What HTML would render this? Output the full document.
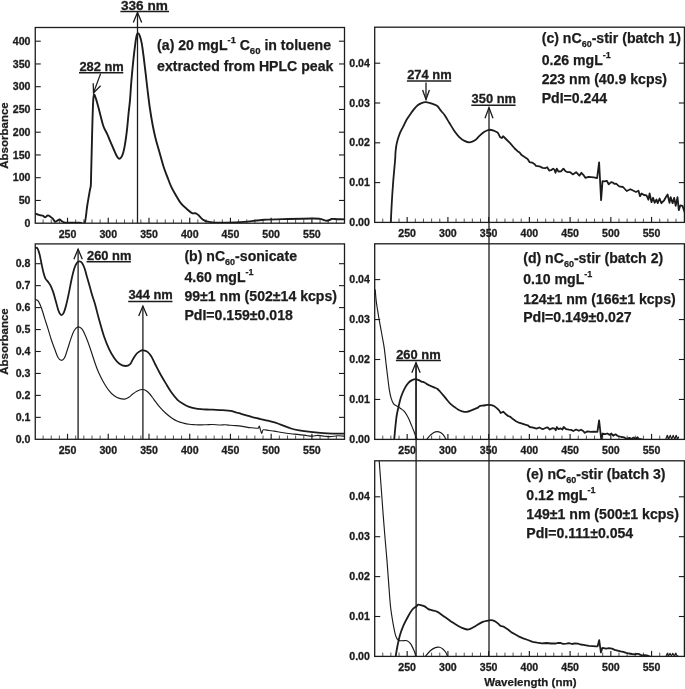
<!DOCTYPE html>
<html><head><meta charset="utf-8"><title>UV-vis spectra</title>
<style>html,body{margin:0;padding:0;background:#fff;width:685px;height:689px;overflow:hidden}svg{display:block;will-change:transform}</style>
</head><body>
<svg width="685" height="689" viewBox="0 0 685 689" font-family='"Liberation Sans", sans-serif' fill="#1c1c1c">
<rect width="685" height="689" fill="#ffffff"/>
<defs>
<clipPath id="ca"><rect x="35.25" y="27.5" width="309.25" height="195.7"/></clipPath>
<clipPath id="cb"><rect x="35.25" y="243.9" width="309.25" height="195.4"/></clipPath>
<clipPath id="cc"><rect x="374.7" y="27.2" width="309.7" height="195.2"/></clipPath>
<clipPath id="cd"><rect x="374.7" y="243.8" width="309.7" height="195.6"/></clipPath>
<clipPath id="ce"><rect x="374.7" y="460.8" width="309.7" height="195.6"/></clipPath>
</defs>
<text x="30.45" y="226.8" font-size="10.6" text-anchor="end" font-weight="bold" stroke="#1c1c1c" stroke-width="0.3">0</text>
<line x1="35.25" y1="200.45" x2="40.75" y2="200.45" stroke="#1c1c1c" stroke-width="1.1"/>
<line x1="344.5" y1="200.45" x2="339" y2="200.45" stroke="#1c1c1c" stroke-width="1.1"/>
<text x="30.45" y="204.05" font-size="10.6" text-anchor="end" font-weight="bold" stroke="#1c1c1c" stroke-width="0.3">50</text>
<line x1="35.25" y1="177.7" x2="40.75" y2="177.7" stroke="#1c1c1c" stroke-width="1.1"/>
<line x1="344.5" y1="177.7" x2="339" y2="177.7" stroke="#1c1c1c" stroke-width="1.1"/>
<text x="30.45" y="181.3" font-size="10.6" text-anchor="end" font-weight="bold" stroke="#1c1c1c" stroke-width="0.3">100</text>
<line x1="35.25" y1="154.95" x2="40.75" y2="154.95" stroke="#1c1c1c" stroke-width="1.1"/>
<line x1="344.5" y1="154.95" x2="339" y2="154.95" stroke="#1c1c1c" stroke-width="1.1"/>
<text x="30.45" y="158.55" font-size="10.6" text-anchor="end" font-weight="bold" stroke="#1c1c1c" stroke-width="0.3">150</text>
<line x1="35.25" y1="132.2" x2="40.75" y2="132.2" stroke="#1c1c1c" stroke-width="1.1"/>
<line x1="344.5" y1="132.2" x2="339" y2="132.2" stroke="#1c1c1c" stroke-width="1.1"/>
<text x="30.45" y="135.8" font-size="10.6" text-anchor="end" font-weight="bold" stroke="#1c1c1c" stroke-width="0.3">200</text>
<line x1="35.25" y1="109.45" x2="40.75" y2="109.45" stroke="#1c1c1c" stroke-width="1.1"/>
<line x1="344.5" y1="109.45" x2="339" y2="109.45" stroke="#1c1c1c" stroke-width="1.1"/>
<text x="30.45" y="113.05" font-size="10.6" text-anchor="end" font-weight="bold" stroke="#1c1c1c" stroke-width="0.3">250</text>
<line x1="35.25" y1="86.7" x2="40.75" y2="86.7" stroke="#1c1c1c" stroke-width="1.1"/>
<line x1="344.5" y1="86.7" x2="339" y2="86.7" stroke="#1c1c1c" stroke-width="1.1"/>
<text x="30.45" y="90.3" font-size="10.6" text-anchor="end" font-weight="bold" stroke="#1c1c1c" stroke-width="0.3">300</text>
<line x1="35.25" y1="63.95" x2="40.75" y2="63.95" stroke="#1c1c1c" stroke-width="1.1"/>
<line x1="344.5" y1="63.95" x2="339" y2="63.95" stroke="#1c1c1c" stroke-width="1.1"/>
<text x="30.45" y="67.55" font-size="10.6" text-anchor="end" font-weight="bold" stroke="#1c1c1c" stroke-width="0.3">350</text>
<line x1="35.25" y1="41.2" x2="40.75" y2="41.2" stroke="#1c1c1c" stroke-width="1.1"/>
<line x1="344.5" y1="41.2" x2="339" y2="41.2" stroke="#1c1c1c" stroke-width="1.1"/>
<text x="30.45" y="44.8" font-size="10.6" text-anchor="end" font-weight="bold" stroke="#1c1c1c" stroke-width="0.3">400</text>
<line x1="43.1" y1="223.2" x2="43.1" y2="219.4" stroke="#444" stroke-width="0.9"/>
<line x1="51.24" y1="223.2" x2="51.24" y2="219.4" stroke="#444" stroke-width="0.9"/>
<line x1="59.39" y1="223.2" x2="59.39" y2="219.4" stroke="#444" stroke-width="0.9"/>
<line x1="67.53" y1="223.2" x2="67.53" y2="217.7" stroke="#1c1c1c" stroke-width="1.15"/>
<text x="67.53" y="237.9" font-size="10.6" text-anchor="middle" font-weight="bold" stroke="#1c1c1c" stroke-width="0.3">250</text>
<line x1="75.68" y1="223.2" x2="75.68" y2="219.4" stroke="#444" stroke-width="0.9"/>
<line x1="83.83" y1="223.2" x2="83.83" y2="219.4" stroke="#444" stroke-width="0.9"/>
<line x1="91.97" y1="223.2" x2="91.97" y2="219.4" stroke="#444" stroke-width="0.9"/>
<line x1="100.12" y1="223.2" x2="100.12" y2="219.4" stroke="#444" stroke-width="0.9"/>
<line x1="108.26" y1="223.2" x2="108.26" y2="217.7" stroke="#1c1c1c" stroke-width="1.15"/>
<text x="108.26" y="237.9" font-size="10.6" text-anchor="middle" font-weight="bold" stroke="#1c1c1c" stroke-width="0.3">300</text>
<line x1="116.41" y1="223.2" x2="116.41" y2="219.4" stroke="#444" stroke-width="0.9"/>
<line x1="124.56" y1="223.2" x2="124.56" y2="219.4" stroke="#444" stroke-width="0.9"/>
<line x1="132.7" y1="223.2" x2="132.7" y2="219.4" stroke="#444" stroke-width="0.9"/>
<line x1="140.85" y1="223.2" x2="140.85" y2="219.4" stroke="#444" stroke-width="0.9"/>
<line x1="148.99" y1="223.2" x2="148.99" y2="217.7" stroke="#1c1c1c" stroke-width="1.15"/>
<text x="148.99" y="237.9" font-size="10.6" text-anchor="middle" font-weight="bold" stroke="#1c1c1c" stroke-width="0.3">350</text>
<line x1="157.14" y1="223.2" x2="157.14" y2="219.4" stroke="#444" stroke-width="0.9"/>
<line x1="165.29" y1="223.2" x2="165.29" y2="219.4" stroke="#444" stroke-width="0.9"/>
<line x1="173.43" y1="223.2" x2="173.43" y2="219.4" stroke="#444" stroke-width="0.9"/>
<line x1="181.58" y1="223.2" x2="181.58" y2="219.4" stroke="#444" stroke-width="0.9"/>
<line x1="189.72" y1="223.2" x2="189.72" y2="217.7" stroke="#1c1c1c" stroke-width="1.15"/>
<text x="189.72" y="237.9" font-size="10.6" text-anchor="middle" font-weight="bold" stroke="#1c1c1c" stroke-width="0.3">400</text>
<line x1="197.87" y1="223.2" x2="197.87" y2="219.4" stroke="#444" stroke-width="0.9"/>
<line x1="206.02" y1="223.2" x2="206.02" y2="219.4" stroke="#444" stroke-width="0.9"/>
<line x1="214.16" y1="223.2" x2="214.16" y2="219.4" stroke="#444" stroke-width="0.9"/>
<line x1="222.31" y1="223.2" x2="222.31" y2="219.4" stroke="#444" stroke-width="0.9"/>
<line x1="230.45" y1="223.2" x2="230.45" y2="217.7" stroke="#1c1c1c" stroke-width="1.15"/>
<text x="230.45" y="237.9" font-size="10.6" text-anchor="middle" font-weight="bold" stroke="#1c1c1c" stroke-width="0.3">450</text>
<line x1="238.6" y1="223.2" x2="238.6" y2="219.4" stroke="#444" stroke-width="0.9"/>
<line x1="246.75" y1="223.2" x2="246.75" y2="219.4" stroke="#444" stroke-width="0.9"/>
<line x1="254.89" y1="223.2" x2="254.89" y2="219.4" stroke="#444" stroke-width="0.9"/>
<line x1="263.04" y1="223.2" x2="263.04" y2="219.4" stroke="#444" stroke-width="0.9"/>
<line x1="271.18" y1="223.2" x2="271.18" y2="217.7" stroke="#1c1c1c" stroke-width="1.15"/>
<text x="271.18" y="237.9" font-size="10.6" text-anchor="middle" font-weight="bold" stroke="#1c1c1c" stroke-width="0.3">500</text>
<line x1="279.33" y1="223.2" x2="279.33" y2="219.4" stroke="#444" stroke-width="0.9"/>
<line x1="287.48" y1="223.2" x2="287.48" y2="219.4" stroke="#444" stroke-width="0.9"/>
<line x1="295.62" y1="223.2" x2="295.62" y2="219.4" stroke="#444" stroke-width="0.9"/>
<line x1="303.77" y1="223.2" x2="303.77" y2="219.4" stroke="#444" stroke-width="0.9"/>
<line x1="311.91" y1="223.2" x2="311.91" y2="217.7" stroke="#1c1c1c" stroke-width="1.15"/>
<text x="311.91" y="237.9" font-size="10.6" text-anchor="middle" font-weight="bold" stroke="#1c1c1c" stroke-width="0.3">550</text>
<line x1="320.06" y1="223.2" x2="320.06" y2="219.4" stroke="#444" stroke-width="0.9"/>
<line x1="328.21" y1="223.2" x2="328.21" y2="219.4" stroke="#444" stroke-width="0.9"/>
<line x1="336.35" y1="223.2" x2="336.35" y2="219.4" stroke="#444" stroke-width="0.9"/>
<g clip-path="url(#ca)">
<path d="M34.5,213.5 C34.68,213.52 34.98,213.4 35.6,213.6 C36.22,213.8 37.43,214.43 38.2,214.7 C38.97,214.97 39.43,215.03 40.2,215.2 C40.97,215.37 41.95,215.37 42.8,215.7 C43.65,216.03 44.45,217.25 45.3,217.2 C46.15,217.15 47.05,215.48 47.9,215.4 C48.75,215.32 49.55,216.13 50.4,216.7 C51.25,217.27 52.23,217.95 53,218.8 C53.77,219.65 54.32,221.47 55,221.8 C55.68,222.13 56.33,221.18 57.1,220.8 C57.87,220.42 58.83,219.45 59.6,219.5 C60.37,219.55 60.93,220.6 61.7,221.1 C62.47,221.6 63.35,222.22 64.2,222.5 C65.05,222.78 65.68,222.75 66.8,222.8 C67.92,222.85 68.7,222.8 70.9,222.8 C73.1,222.8 77.7,222.8 80,222.8 C82.3,222.8 83.5,225.6 84.7,222.8 C85.9,220 86.35,211.35 87.2,206 C88.05,200.65 89.2,194.12 89.8,190.7 C90.4,187.28 90.58,188.07 90.8,185.5 C91.02,182.93 91,179.05 91.1,175.3 C91.2,171.55 91.27,168.38 91.4,163 C91.53,157.62 91.72,150.2 91.9,143 C92.08,135.8 92.28,126.8 92.5,119.8 C92.72,112.8 92.95,105.22 93.2,101 C93.45,96.78 93.53,94.85 94,94.5 C94.47,94.15 95.28,96.82 96,98.9 C96.72,100.98 97.52,104.1 98.3,107 C99.08,109.9 99.82,113 100.7,116.3 C101.58,119.6 102.55,123.9 103.6,126.8 C104.65,129.7 105.85,131.2 107,133.7 C108.15,136.2 109.33,139.08 110.5,141.8 C111.67,144.52 112.93,147.58 114,150 C115.07,152.42 116.03,154.85 116.9,156.3 C117.77,157.75 118.33,158.78 119.2,158.7 C120.07,158.62 121.23,157.65 122.1,155.8 C122.97,153.95 123.62,151.67 124.4,147.6 C125.18,143.53 126.12,137 126.8,131.4 C127.48,125.8 127.97,119.22 128.5,114 C129.03,108.78 129.53,105.43 130,100.1 C130.47,94.77 130.75,88.57 131.3,82 C131.85,75.43 132.63,67.08 133.3,60.7 C133.97,54.32 134.75,47.85 135.3,43.7 C135.85,39.55 136.17,37.53 136.6,35.8 C137.03,34.07 137.37,33.3 137.9,33.3 C138.43,33.3 139.15,34.07 139.8,35.8 C140.45,37.53 141.13,39.98 141.8,43.7 C142.47,47.42 143.15,53.08 143.8,58.1 C144.45,63.12 145.07,68.4 145.7,73.8 C146.33,79.2 146.93,84.97 147.6,90.5 C148.27,96.03 148.85,101.2 149.7,107 C150.55,112.8 151.7,119.97 152.7,125.3 C153.7,130.63 154.55,134.43 155.7,139 C156.85,143.57 158.3,148.12 159.6,152.7 C160.9,157.28 162.18,162.4 163.5,166.5 C164.82,170.6 166.18,173.87 167.5,177.3 C168.82,180.73 169.93,184 171.4,187.1 C172.87,190.2 174.67,193.13 176.3,195.9 C177.93,198.67 179.4,201.48 181.2,203.7 C183,205.92 185.3,207.63 187.1,209.2 C188.9,210.77 190.53,212.42 192,213.1 C193.47,213.78 194.77,212.9 195.9,213.3 C197.03,213.7 197.67,214.48 198.8,215.5 C199.93,216.52 201.38,218.42 202.7,219.4 C204.02,220.38 205.07,220.9 206.7,221.4 C208.33,221.9 210.28,222.2 212.5,222.4 C214.72,222.6 216.25,222.58 220,222.6 C223.75,222.62 230.42,222.67 235,222.5 C239.58,222.33 242.67,222.05 247.5,221.6 C252.33,221.15 257.25,220.23 264,219.8 C270.75,219.37 279.92,219.22 288,219 C296.08,218.78 307.17,218.52 312.5,218.5 C317.83,218.48 317.58,218.52 320,218.9 C322.42,219.28 325.03,220.78 327,220.8 C328.97,220.82 330.13,219.27 331.8,219 C333.47,218.73 334.8,219.13 337,219.2 C339.2,219.27 343.67,219.37 345,219.4" fill="none" stroke="#1c1c1c" stroke-width="1.9" stroke-linejoin="round" stroke-linecap="round"/>
</g>
<rect x="35.25" y="27.5" width="309.25" height="195.7" fill="none" stroke="#1c1c1c" stroke-width="1.3"/>
<line x1="137.5" y1="12.5" x2="137.5" y2="223.2" stroke="#1c1c1c" stroke-width="1.3"/>
<polyline points="133.3,22.5 137.5,12.5 141.7,22.5" fill="none" stroke="#1c1c1c" stroke-width="1.3" stroke-linejoin="miter"/>
<text x="121" y="9.6" font-size="13.6" text-anchor="start" font-weight="bold" stroke="#1c1c1c" stroke-width="0.3">336 nm</text>
<line x1="120.4" y1="11.6" x2="169" y2="11.6" stroke="#1c1c1c" stroke-width="1.5"/>
<text x="79.4" y="70.8" font-size="12.9" text-anchor="start" font-weight="bold" stroke="#1c1c1c" stroke-width="0.3">282 nm</text>
<line x1="79" y1="72.8" x2="123.3" y2="72.8" stroke="#1c1c1c" stroke-width="1.5"/>
<line x1="100.6" y1="73.6" x2="93.5" y2="92.9" stroke="#1c1c1c" stroke-width="1.3"/>
<polyline points="93.2,83.3 93.5,92.9 100.6,85.7" fill="none" stroke="#1c1c1c" stroke-width="1.3"/>
<text x="157.1" y="50.0" font-size="14.1" font-weight="bold" stroke="#1c1c1c" stroke-width="0.25">(a) 20 mgL<tspan font-size="9.2" baseline-shift="6.8">-1</tspan> C<tspan font-size="9.6" baseline-shift="-4.3">60</tspan> in toluene</text>
<text x="157.1" y="71.1" font-size="14.1" font-weight="bold" stroke="#1c1c1c" stroke-width="0.25">extracted from HPLC peak</text>
<text x="30.45" y="442.9" font-size="10.6" text-anchor="end" font-weight="bold" stroke="#1c1c1c" stroke-width="0.3">0.0</text>
<line x1="35.25" y1="417.35" x2="40.75" y2="417.35" stroke="#1c1c1c" stroke-width="1.1"/>
<line x1="344.5" y1="417.35" x2="339" y2="417.35" stroke="#1c1c1c" stroke-width="1.1"/>
<text x="30.45" y="420.95" font-size="10.6" text-anchor="end" font-weight="bold" stroke="#1c1c1c" stroke-width="0.3">0.1</text>
<line x1="35.25" y1="395.4" x2="40.75" y2="395.4" stroke="#1c1c1c" stroke-width="1.1"/>
<line x1="344.5" y1="395.4" x2="339" y2="395.4" stroke="#1c1c1c" stroke-width="1.1"/>
<text x="30.45" y="399" font-size="10.6" text-anchor="end" font-weight="bold" stroke="#1c1c1c" stroke-width="0.3">0.2</text>
<line x1="35.25" y1="373.45" x2="40.75" y2="373.45" stroke="#1c1c1c" stroke-width="1.1"/>
<line x1="344.5" y1="373.45" x2="339" y2="373.45" stroke="#1c1c1c" stroke-width="1.1"/>
<text x="30.45" y="377.05" font-size="10.6" text-anchor="end" font-weight="bold" stroke="#1c1c1c" stroke-width="0.3">0.3</text>
<line x1="35.25" y1="351.5" x2="40.75" y2="351.5" stroke="#1c1c1c" stroke-width="1.1"/>
<line x1="344.5" y1="351.5" x2="339" y2="351.5" stroke="#1c1c1c" stroke-width="1.1"/>
<text x="30.45" y="355.1" font-size="10.6" text-anchor="end" font-weight="bold" stroke="#1c1c1c" stroke-width="0.3">0.4</text>
<line x1="35.25" y1="329.55" x2="40.75" y2="329.55" stroke="#1c1c1c" stroke-width="1.1"/>
<line x1="344.5" y1="329.55" x2="339" y2="329.55" stroke="#1c1c1c" stroke-width="1.1"/>
<text x="30.45" y="333.15" font-size="10.6" text-anchor="end" font-weight="bold" stroke="#1c1c1c" stroke-width="0.3">0.5</text>
<line x1="35.25" y1="307.6" x2="40.75" y2="307.6" stroke="#1c1c1c" stroke-width="1.1"/>
<line x1="344.5" y1="307.6" x2="339" y2="307.6" stroke="#1c1c1c" stroke-width="1.1"/>
<text x="30.45" y="311.2" font-size="10.6" text-anchor="end" font-weight="bold" stroke="#1c1c1c" stroke-width="0.3">0.6</text>
<line x1="35.25" y1="285.65" x2="40.75" y2="285.65" stroke="#1c1c1c" stroke-width="1.1"/>
<line x1="344.5" y1="285.65" x2="339" y2="285.65" stroke="#1c1c1c" stroke-width="1.1"/>
<text x="30.45" y="289.25" font-size="10.6" text-anchor="end" font-weight="bold" stroke="#1c1c1c" stroke-width="0.3">0.7</text>
<line x1="35.25" y1="263.7" x2="40.75" y2="263.7" stroke="#1c1c1c" stroke-width="1.1"/>
<line x1="344.5" y1="263.7" x2="339" y2="263.7" stroke="#1c1c1c" stroke-width="1.1"/>
<text x="30.45" y="267.3" font-size="10.6" text-anchor="end" font-weight="bold" stroke="#1c1c1c" stroke-width="0.3">0.8</text>
<line x1="43.1" y1="439.3" x2="43.1" y2="435.5" stroke="#444" stroke-width="0.9"/>
<line x1="51.24" y1="439.3" x2="51.24" y2="435.5" stroke="#444" stroke-width="0.9"/>
<line x1="59.39" y1="439.3" x2="59.39" y2="435.5" stroke="#444" stroke-width="0.9"/>
<line x1="67.53" y1="439.3" x2="67.53" y2="433.8" stroke="#1c1c1c" stroke-width="1.15"/>
<text x="67.53" y="454" font-size="10.6" text-anchor="middle" font-weight="bold" stroke="#1c1c1c" stroke-width="0.3">250</text>
<line x1="75.68" y1="439.3" x2="75.68" y2="435.5" stroke="#444" stroke-width="0.9"/>
<line x1="83.83" y1="439.3" x2="83.83" y2="435.5" stroke="#444" stroke-width="0.9"/>
<line x1="91.97" y1="439.3" x2="91.97" y2="435.5" stroke="#444" stroke-width="0.9"/>
<line x1="100.12" y1="439.3" x2="100.12" y2="435.5" stroke="#444" stroke-width="0.9"/>
<line x1="108.26" y1="439.3" x2="108.26" y2="433.8" stroke="#1c1c1c" stroke-width="1.15"/>
<text x="108.26" y="454" font-size="10.6" text-anchor="middle" font-weight="bold" stroke="#1c1c1c" stroke-width="0.3">300</text>
<line x1="116.41" y1="439.3" x2="116.41" y2="435.5" stroke="#444" stroke-width="0.9"/>
<line x1="124.56" y1="439.3" x2="124.56" y2="435.5" stroke="#444" stroke-width="0.9"/>
<line x1="132.7" y1="439.3" x2="132.7" y2="435.5" stroke="#444" stroke-width="0.9"/>
<line x1="140.85" y1="439.3" x2="140.85" y2="435.5" stroke="#444" stroke-width="0.9"/>
<line x1="148.99" y1="439.3" x2="148.99" y2="433.8" stroke="#1c1c1c" stroke-width="1.15"/>
<text x="148.99" y="454" font-size="10.6" text-anchor="middle" font-weight="bold" stroke="#1c1c1c" stroke-width="0.3">350</text>
<line x1="157.14" y1="439.3" x2="157.14" y2="435.5" stroke="#444" stroke-width="0.9"/>
<line x1="165.29" y1="439.3" x2="165.29" y2="435.5" stroke="#444" stroke-width="0.9"/>
<line x1="173.43" y1="439.3" x2="173.43" y2="435.5" stroke="#444" stroke-width="0.9"/>
<line x1="181.58" y1="439.3" x2="181.58" y2="435.5" stroke="#444" stroke-width="0.9"/>
<line x1="189.72" y1="439.3" x2="189.72" y2="433.8" stroke="#1c1c1c" stroke-width="1.15"/>
<text x="189.72" y="454" font-size="10.6" text-anchor="middle" font-weight="bold" stroke="#1c1c1c" stroke-width="0.3">400</text>
<line x1="197.87" y1="439.3" x2="197.87" y2="435.5" stroke="#444" stroke-width="0.9"/>
<line x1="206.02" y1="439.3" x2="206.02" y2="435.5" stroke="#444" stroke-width="0.9"/>
<line x1="214.16" y1="439.3" x2="214.16" y2="435.5" stroke="#444" stroke-width="0.9"/>
<line x1="222.31" y1="439.3" x2="222.31" y2="435.5" stroke="#444" stroke-width="0.9"/>
<line x1="230.45" y1="439.3" x2="230.45" y2="433.8" stroke="#1c1c1c" stroke-width="1.15"/>
<text x="230.45" y="454" font-size="10.6" text-anchor="middle" font-weight="bold" stroke="#1c1c1c" stroke-width="0.3">450</text>
<line x1="238.6" y1="439.3" x2="238.6" y2="435.5" stroke="#444" stroke-width="0.9"/>
<line x1="246.75" y1="439.3" x2="246.75" y2="435.5" stroke="#444" stroke-width="0.9"/>
<line x1="254.89" y1="439.3" x2="254.89" y2="435.5" stroke="#444" stroke-width="0.9"/>
<line x1="263.04" y1="439.3" x2="263.04" y2="435.5" stroke="#444" stroke-width="0.9"/>
<line x1="271.18" y1="439.3" x2="271.18" y2="433.8" stroke="#1c1c1c" stroke-width="1.15"/>
<text x="271.18" y="454" font-size="10.6" text-anchor="middle" font-weight="bold" stroke="#1c1c1c" stroke-width="0.3">500</text>
<line x1="279.33" y1="439.3" x2="279.33" y2="435.5" stroke="#444" stroke-width="0.9"/>
<line x1="287.48" y1="439.3" x2="287.48" y2="435.5" stroke="#444" stroke-width="0.9"/>
<line x1="295.62" y1="439.3" x2="295.62" y2="435.5" stroke="#444" stroke-width="0.9"/>
<line x1="303.77" y1="439.3" x2="303.77" y2="435.5" stroke="#444" stroke-width="0.9"/>
<line x1="311.91" y1="439.3" x2="311.91" y2="433.8" stroke="#1c1c1c" stroke-width="1.15"/>
<text x="311.91" y="454" font-size="10.6" text-anchor="middle" font-weight="bold" stroke="#1c1c1c" stroke-width="0.3">550</text>
<line x1="320.06" y1="439.3" x2="320.06" y2="435.5" stroke="#444" stroke-width="0.9"/>
<line x1="328.21" y1="439.3" x2="328.21" y2="435.5" stroke="#444" stroke-width="0.9"/>
<line x1="336.35" y1="439.3" x2="336.35" y2="435.5" stroke="#444" stroke-width="0.9"/>
<g clip-path="url(#cb)">
<path d="M35,247.6 C35.12,247.62 35.27,247.53 35.7,247.7 C36.13,247.87 36.95,247.47 37.6,248.6 C38.25,249.73 38.95,252 39.6,254.5 C40.25,257 40.85,260.55 41.5,263.6 C42.15,266.65 42.83,270.3 43.5,272.8 C44.17,275.3 44.73,277.08 45.5,278.6 C46.27,280.12 47.23,280.7 48.1,281.9 C48.97,283.1 49.83,284.05 50.7,285.8 C51.57,287.55 52.43,289.78 53.3,292.4 C54.17,295.02 55.03,298.45 55.9,301.5 C56.77,304.55 57.63,308.45 58.5,310.7 C59.37,312.95 60.22,314.68 61.1,315 C61.98,315.32 62.92,314.42 63.8,312.6 C64.68,310.78 65.53,307.47 66.4,304.1 C67.27,300.73 68.13,296.53 69,292.4 C69.87,288.27 70.73,283.23 71.6,279.3 C72.47,275.37 73.33,271.52 74.2,268.8 C75.07,266.08 75.93,264.25 76.8,263 C77.67,261.75 78.52,261.3 79.4,261.3 C80.28,261.3 81.22,261.75 82.1,263 C82.98,264.25 83.83,266.3 84.7,268.8 C85.57,271.3 86.43,274.95 87.3,278 C88.17,281.05 89.03,284.05 89.9,287.1 C90.77,290.15 91.65,293.47 92.5,296.3 C93.35,299.13 93.88,300.15 95,304.1 C96.12,308.05 97.73,314.73 99.2,320 C100.67,325.27 102.17,330.9 103.8,335.7 C105.43,340.5 107.27,345.1 109,348.8 C110.73,352.5 112.47,355.4 114.2,357.9 C115.93,360.4 117.55,362.45 119.4,363.8 C121.25,365.15 123.55,365.9 125.3,366 C127.05,366.1 128.65,365.5 129.9,364.4 C131.15,363.3 131.65,361.22 132.8,359.4 C133.95,357.58 135.48,354.95 136.8,353.5 C138.12,352.05 139.62,351.23 140.7,350.7 C141.78,350.17 142.22,350.15 143.3,350.3 C144.38,350.45 145.9,350.63 147.2,351.6 C148.5,352.57 149.78,354.03 151.1,356.1 C152.42,358.17 153.62,361.1 155.1,364 C156.58,366.9 158.22,370.27 160,373.5 C161.78,376.73 163.85,380.18 165.8,383.4 C167.75,386.62 169.75,390.07 171.7,392.8 C173.65,395.53 175.55,397.95 177.5,399.8 C179.45,401.65 181.45,402.73 183.4,403.9 C185.35,405.07 187.27,406.07 189.2,406.8 C191.13,407.53 193.05,407.92 195,408.3 C196.95,408.68 198.95,408.9 200.9,409.1 C202.85,409.3 204.75,409.4 206.7,409.5 C208.65,409.6 210.38,409.6 212.6,409.7 C214.82,409.8 217.88,410 220,410.1 C222.12,410.2 223.55,410.17 225.3,410.3 C227.05,410.43 228.75,410.57 230.5,410.9 C232.25,411.23 234.05,411.82 235.8,412.3 C237.55,412.78 239.25,413.3 241,413.8 C242.75,414.3 244.55,414.8 246.3,415.3 C248.05,415.8 249.75,416.32 251.5,416.8 C253.25,417.28 255.05,417.77 256.8,418.2 C258.55,418.63 260.25,419 262,419.4 C263.75,419.8 265.55,420.18 267.3,420.6 C269.05,421.02 270.75,421.42 272.5,421.9 C274.25,422.38 276.02,422.88 277.8,423.5 C279.58,424.12 281,424.77 283.2,425.6 C285.4,426.43 288.33,427.72 291,428.5 C293.67,429.28 295.95,429.73 299.2,430.3 C302.45,430.87 306.48,431.42 310.5,431.9 C314.52,432.38 319.38,432.92 323.3,433.2 C327.22,433.48 330.38,433.52 334,433.6 C337.62,433.68 343.17,433.68 345,433.7" fill="none" stroke="#1c1c1c" stroke-width="1.8" stroke-linejoin="round" stroke-linecap="round"/>
<path d="M35,299.6 C35.12,299.63 35.15,299.55 35.7,299.8 C36.25,300.05 37.33,299.68 38.3,301.1 C39.27,302.52 40.42,305.35 41.5,308.3 C42.58,311.25 43.7,315.32 44.8,318.8 C45.9,322.28 47.02,325.72 48.1,329.2 C49.18,332.68 50.22,336.43 51.3,339.7 C52.38,342.97 53.5,345.87 54.6,348.8 C55.7,351.73 56.82,355.38 57.9,357.3 C58.98,359.22 60.02,360.18 61.1,360.3 C62.18,360.42 63.3,359.92 64.4,358 C65.5,356.08 66.6,352.07 67.7,348.8 C68.8,345.53 69.92,341.45 71,338.4 C72.08,335.35 73.02,332.42 74.2,330.5 C75.38,328.58 76.78,327.12 78.1,326.9 C79.42,326.68 80.78,327.5 82.1,329.2 C83.42,330.9 84.7,334.05 86,337.1 C87.3,340.15 88.47,343.38 89.9,347.5 C91.33,351.62 93.17,357.67 94.6,361.8 C96.03,365.93 96.97,368.82 98.5,372.3 C100.03,375.78 102.05,379.65 103.8,382.7 C105.55,385.75 107.27,388.42 109,390.6 C110.73,392.78 112.47,394.5 114.2,395.8 C115.93,397.1 117.65,397.85 119.4,398.4 C121.15,398.95 123.12,399.28 124.7,399.1 C126.28,398.92 127.55,398.15 128.9,397.3 C130.25,396.45 131.48,395.02 132.8,394 C134.12,392.98 135.27,391.95 136.8,391.2 C138.33,390.45 140.48,389.63 142,389.5 C143.52,389.37 144.6,389.65 145.9,390.4 C147.2,391.15 148.48,392.52 149.8,394 C151.12,395.48 152.1,397.07 153.8,399.3 C155.5,401.53 158,405.08 160,407.4 C162,409.72 163.85,411.45 165.8,413.2 C167.75,414.95 169.75,416.57 171.7,417.9 C173.65,419.23 175.55,420.33 177.5,421.2 C179.45,422.07 181.45,422.58 183.4,423.1 C185.35,423.62 187.27,424.03 189.2,424.3 C191.13,424.57 193.05,424.6 195,424.7 C196.95,424.8 198.95,424.9 200.9,424.9 C202.85,424.9 204.75,424.77 206.7,424.7 C208.65,424.63 210.38,424.45 212.6,424.5 C214.82,424.55 217.88,424.95 220,425 C222.12,425.05 223.55,424.75 225.3,424.8 C227.05,424.85 228.75,425.17 230.5,425.3 C232.25,425.43 234.05,425.47 235.8,425.6 C237.55,425.73 239.25,425.85 241,426.1 C242.75,426.35 244.55,426.82 246.3,427.1 C248.05,427.38 249.75,427.62 251.5,427.8 C253.25,427.98 255.62,428.17 256.8,428.2 C257.98,428.23 258.17,428.32 258.6,428 C259.03,427.68 258.9,425.42 259.4,426.3 C259.9,427.18 260.95,432.72 261.6,433.3 C262.25,433.88 262.07,430.27 263.3,429.8 C264.53,429.33 267.17,430.28 269,430.5 C270.83,430.72 272.47,430.82 274.3,431.1 C276.13,431.38 278.22,431.88 280,432.2 C281.78,432.52 283.17,432.73 285,433 C286.83,433.27 288.63,433.53 291,433.8 C293.37,434.07 296.48,434.28 299.2,434.6 C301.92,434.92 305.08,435.45 307.3,435.7 C309.52,435.95 310.72,436.15 312.5,436.1 C314.28,436.05 315.98,435.38 318,435.4 C320.02,435.42 322.6,436 324.6,436.2 C326.6,436.4 327.77,436.67 330,436.6 C332.23,436.53 335.5,435.87 338,435.8 C340.5,435.73 343.83,436.13 345,436.2" fill="none" stroke="#1c1c1c" stroke-width="1.15" stroke-linejoin="round" stroke-linecap="round"/>
</g>
<rect x="35.25" y="243.9" width="309.25" height="195.4" fill="none" stroke="#1c1c1c" stroke-width="1.3"/>
<line x1="78.1" y1="249.2" x2="78.1" y2="439.3" stroke="#1c1c1c" stroke-width="1.3"/>
<polyline points="73.9,259.2 78.1,249.2 82.3,259.2" fill="none" stroke="#1c1c1c" stroke-width="1.3" stroke-linejoin="miter"/>
<line x1="142.9" y1="306.1" x2="142.9" y2="439.3" stroke="#1c1c1c" stroke-width="1.3"/>
<polyline points="138.7,316.1 142.9,306.1 147.1,316.1" fill="none" stroke="#1c1c1c" stroke-width="1.3" stroke-linejoin="miter"/>
<text x="87" y="259.7" font-size="12.9" text-anchor="start" font-weight="bold" stroke="#1c1c1c" stroke-width="0.3">260 nm</text>
<line x1="86.6" y1="261.7" x2="130.9" y2="261.7" stroke="#1c1c1c" stroke-width="1.5"/>
<text x="128.4" y="299.4" font-size="12.9" text-anchor="start" font-weight="bold" stroke="#1c1c1c" stroke-width="0.3">344 nm</text>
<line x1="128.2" y1="301.4" x2="172.5" y2="301.4" stroke="#1c1c1c" stroke-width="1.5"/>
<text x="184.4" y="260.9" font-size="14.1" font-weight="bold" stroke="#1c1c1c" stroke-width="0.25">(b) nC<tspan font-size="9.0" baseline-shift="-4.2">60</tspan>-sonicate</text>
<text x="184.4" y="281.7" font-size="14.1" font-weight="bold" stroke="#1c1c1c" stroke-width="0.25">4.60 mgL<tspan font-size="9.0" baseline-shift="6.8">-1</tspan></text>
<text x="184.4" y="301.1" font-size="14.1" font-weight="bold" stroke="#1c1c1c" stroke-width="0.25">99±1 nm (502±14 kcps)</text>
<text x="184.4" y="320" font-size="14.1" font-weight="bold" stroke="#1c1c1c" stroke-width="0.25">PdI=0.159±0.018</text>
<text x="369.9" y="226" font-size="10.6" text-anchor="end" font-weight="bold" stroke="#1c1c1c" stroke-width="0.3">0.00</text>
<line x1="374.7" y1="182.6" x2="380.2" y2="182.6" stroke="#1c1c1c" stroke-width="1.1"/>
<line x1="684.4" y1="182.6" x2="678.9" y2="182.6" stroke="#1c1c1c" stroke-width="1.1"/>
<text x="369.9" y="186.2" font-size="10.6" text-anchor="end" font-weight="bold" stroke="#1c1c1c" stroke-width="0.3">0.01</text>
<line x1="374.7" y1="142.8" x2="380.2" y2="142.8" stroke="#1c1c1c" stroke-width="1.1"/>
<line x1="684.4" y1="142.8" x2="678.9" y2="142.8" stroke="#1c1c1c" stroke-width="1.1"/>
<text x="369.9" y="146.4" font-size="10.6" text-anchor="end" font-weight="bold" stroke="#1c1c1c" stroke-width="0.3">0.02</text>
<line x1="374.7" y1="103" x2="380.2" y2="103" stroke="#1c1c1c" stroke-width="1.1"/>
<line x1="684.4" y1="103" x2="678.9" y2="103" stroke="#1c1c1c" stroke-width="1.1"/>
<text x="369.9" y="106.6" font-size="10.6" text-anchor="end" font-weight="bold" stroke="#1c1c1c" stroke-width="0.3">0.03</text>
<line x1="374.7" y1="63.2" x2="380.2" y2="63.2" stroke="#1c1c1c" stroke-width="1.1"/>
<line x1="684.4" y1="63.2" x2="678.9" y2="63.2" stroke="#1c1c1c" stroke-width="1.1"/>
<text x="369.9" y="66.8" font-size="10.6" text-anchor="end" font-weight="bold" stroke="#1c1c1c" stroke-width="0.3">0.04</text>
<line x1="382.75" y1="222.4" x2="382.75" y2="218.6" stroke="#444" stroke-width="0.9"/>
<line x1="390.89" y1="222.4" x2="390.89" y2="218.6" stroke="#444" stroke-width="0.9"/>
<line x1="399.04" y1="222.4" x2="399.04" y2="218.6" stroke="#444" stroke-width="0.9"/>
<line x1="407.18" y1="222.4" x2="407.18" y2="216.9" stroke="#1c1c1c" stroke-width="1.15"/>
<text x="407.18" y="237.1" font-size="10.6" text-anchor="middle" font-weight="bold" stroke="#1c1c1c" stroke-width="0.3">250</text>
<line x1="415.33" y1="222.4" x2="415.33" y2="218.6" stroke="#444" stroke-width="0.9"/>
<line x1="423.48" y1="222.4" x2="423.48" y2="218.6" stroke="#444" stroke-width="0.9"/>
<line x1="431.62" y1="222.4" x2="431.62" y2="218.6" stroke="#444" stroke-width="0.9"/>
<line x1="439.77" y1="222.4" x2="439.77" y2="218.6" stroke="#444" stroke-width="0.9"/>
<line x1="447.91" y1="222.4" x2="447.91" y2="216.9" stroke="#1c1c1c" stroke-width="1.15"/>
<text x="447.91" y="237.1" font-size="10.6" text-anchor="middle" font-weight="bold" stroke="#1c1c1c" stroke-width="0.3">300</text>
<line x1="456.06" y1="222.4" x2="456.06" y2="218.6" stroke="#444" stroke-width="0.9"/>
<line x1="464.21" y1="222.4" x2="464.21" y2="218.6" stroke="#444" stroke-width="0.9"/>
<line x1="472.35" y1="222.4" x2="472.35" y2="218.6" stroke="#444" stroke-width="0.9"/>
<line x1="480.5" y1="222.4" x2="480.5" y2="218.6" stroke="#444" stroke-width="0.9"/>
<line x1="488.64" y1="222.4" x2="488.64" y2="216.9" stroke="#1c1c1c" stroke-width="1.15"/>
<text x="488.64" y="237.1" font-size="10.6" text-anchor="middle" font-weight="bold" stroke="#1c1c1c" stroke-width="0.3">350</text>
<line x1="496.79" y1="222.4" x2="496.79" y2="218.6" stroke="#444" stroke-width="0.9"/>
<line x1="504.94" y1="222.4" x2="504.94" y2="218.6" stroke="#444" stroke-width="0.9"/>
<line x1="513.08" y1="222.4" x2="513.08" y2="218.6" stroke="#444" stroke-width="0.9"/>
<line x1="521.23" y1="222.4" x2="521.23" y2="218.6" stroke="#444" stroke-width="0.9"/>
<line x1="529.37" y1="222.4" x2="529.37" y2="216.9" stroke="#1c1c1c" stroke-width="1.15"/>
<text x="529.37" y="237.1" font-size="10.6" text-anchor="middle" font-weight="bold" stroke="#1c1c1c" stroke-width="0.3">400</text>
<line x1="537.52" y1="222.4" x2="537.52" y2="218.6" stroke="#444" stroke-width="0.9"/>
<line x1="545.67" y1="222.4" x2="545.67" y2="218.6" stroke="#444" stroke-width="0.9"/>
<line x1="553.81" y1="222.4" x2="553.81" y2="218.6" stroke="#444" stroke-width="0.9"/>
<line x1="561.96" y1="222.4" x2="561.96" y2="218.6" stroke="#444" stroke-width="0.9"/>
<line x1="570.1" y1="222.4" x2="570.1" y2="216.9" stroke="#1c1c1c" stroke-width="1.15"/>
<text x="570.1" y="237.1" font-size="10.6" text-anchor="middle" font-weight="bold" stroke="#1c1c1c" stroke-width="0.3">450</text>
<line x1="578.25" y1="222.4" x2="578.25" y2="218.6" stroke="#444" stroke-width="0.9"/>
<line x1="586.4" y1="222.4" x2="586.4" y2="218.6" stroke="#444" stroke-width="0.9"/>
<line x1="594.54" y1="222.4" x2="594.54" y2="218.6" stroke="#444" stroke-width="0.9"/>
<line x1="602.69" y1="222.4" x2="602.69" y2="218.6" stroke="#444" stroke-width="0.9"/>
<line x1="610.83" y1="222.4" x2="610.83" y2="216.9" stroke="#1c1c1c" stroke-width="1.15"/>
<text x="610.83" y="237.1" font-size="10.6" text-anchor="middle" font-weight="bold" stroke="#1c1c1c" stroke-width="0.3">500</text>
<line x1="618.98" y1="222.4" x2="618.98" y2="218.6" stroke="#444" stroke-width="0.9"/>
<line x1="627.13" y1="222.4" x2="627.13" y2="218.6" stroke="#444" stroke-width="0.9"/>
<line x1="635.27" y1="222.4" x2="635.27" y2="218.6" stroke="#444" stroke-width="0.9"/>
<line x1="643.42" y1="222.4" x2="643.42" y2="218.6" stroke="#444" stroke-width="0.9"/>
<line x1="651.56" y1="222.4" x2="651.56" y2="216.9" stroke="#1c1c1c" stroke-width="1.15"/>
<text x="651.56" y="237.1" font-size="10.6" text-anchor="middle" font-weight="bold" stroke="#1c1c1c" stroke-width="0.3">550</text>
<line x1="659.71" y1="222.4" x2="659.71" y2="218.6" stroke="#444" stroke-width="0.9"/>
<line x1="667.86" y1="222.4" x2="667.86" y2="218.6" stroke="#444" stroke-width="0.9"/>
<line x1="676" y1="222.4" x2="676" y2="218.6" stroke="#444" stroke-width="0.9"/>
<g clip-path="url(#cc)">
<path d="M390.8,223.5 C390.8,223.3 390.63,225.8 390.8,222.3 C390.97,218.8 391.4,209.27 391.8,202.5 C392.2,195.73 392.65,188.78 393.2,181.7 C393.75,174.62 394.72,164.87 395.1,160 C395.48,155.13 395.32,154.75 395.5,152.5 C395.68,150.25 395.88,148.45 396.2,146.5 C396.52,144.55 396.77,143.07 397.4,140.8 C398.03,138.53 399.02,135.3 400,132.9 C400.98,130.5 402.2,128.58 403.3,126.4 C404.4,124.22 405.4,121.87 406.6,119.8 C407.8,117.73 409.3,115.73 410.5,114 C411.7,112.27 412.6,110.87 413.8,109.4 C415,107.93 416.4,106.25 417.7,105.2 C419,104.15 420.3,103.6 421.6,103.1 C422.9,102.6 424.2,102.25 425.5,102.2 C426.8,102.15 428.08,102.47 429.4,102.8 C430.72,103.13 432.08,103.67 433.4,104.2 C434.72,104.73 436,104.87 437.3,106 C438.6,107.13 439.97,109.47 441.2,111 C442.43,112.53 443.35,113.23 444.7,115.2 C446.05,117.17 447.75,120.27 449.3,122.8 C450.85,125.33 452.33,128.02 454,130.4 C455.67,132.78 457.55,135.35 459.3,137.1 C461.05,138.85 462.75,140.03 464.5,140.9 C466.25,141.77 468.05,142.4 469.8,142.3 C471.55,142.2 473.35,141.42 475,140.3 C476.65,139.18 478.13,137.02 479.7,135.6 C481.27,134.18 482.85,132.77 484.4,131.8 C485.95,130.83 487.45,130 489,129.8 C490.55,129.6 492.23,130.12 493.7,130.6 C495.17,131.08 497.12,132.35 497.8,132.7 L500.1,137.1 L501.9,138 L503.1,136.2 L505.4,138.5 L510.1,143.2 L514.7,148.5 L517.6,151.2 L519.6,152.5 L521.6,155.1 L524.2,156.8 L526.8,158.4 L528.1,159.7 L529.5,162.1 L532.1,162.6 L534.7,164.3 L536,165.9 L539.3,166.3 L542.6,167.9 L545.2,168.2 L547.2,167.3 L549.2,170.5 L551.1,170.2 L553.1,168.6 L554.4,169.6 L555.5,172.8 L556.8,168.6 L558.4,171.5 L561,171.3 L563.4,168.6 L565.6,171.3 L567.6,172.2 L570.2,172.2 L572.8,174.4 L576.1,172.2 L579.4,175.7 L581.4,172.8 L583.3,174.8 L585.3,177.8 L588.6,176.8 L591.2,177.1 L593.8,177.4 L597.1,178.1 L599.1,162.3 L601.1,200.2 L602.5,181.1 L604.3,181.3 L606.8,180.8 L608.7,184.2 L611.2,182.1 L613,182.6 L614.3,183.8 L616.1,183.6 L619.2,186.4 L623,187 L626.7,191 L630.4,189.2 L633.5,190.8 L636,192 L638.5,190.8 L640,196.2 L641.6,193.5 L644,195 L646.5,195.4 L648.4,199.7 L649.6,193.5 L651.5,202.2 L653.1,197.8 L654.6,202.8 L656.5,199.5 L657.7,203.2 L659.6,198.5 L661.4,203.2 L663.9,200.7 L665.8,197.2 L667.6,194.5 L669.5,202.8 L670.7,197.2 L672.6,203.2 L674.2,197.8 L675.7,205.9 L677.5,197.2 L678.8,210.2 L680.4,205.3 L682.5,205.9 L685,213.3" fill="none" stroke="#1c1c1c" stroke-width="1.8" stroke-linejoin="round" stroke-linecap="round"/>
</g>
<rect x="374.7" y="27.2" width="309.7" height="195.2" fill="none" stroke="#1c1c1c" stroke-width="1.3"/>
<line x1="426" y1="82.5" x2="426" y2="99.5" stroke="#1c1c1c" stroke-width="1.3"/>
<polyline points="422.6,90 426,99.5 429.4,90" fill="none" stroke="#1c1c1c" stroke-width="1.3"/>
<text x="407.2" y="79" font-size="12.9" text-anchor="start" font-weight="bold" stroke="#1c1c1c" stroke-width="0.3">274 nm</text>
<line x1="406.9" y1="81" x2="451.2" y2="81" stroke="#1c1c1c" stroke-width="1.5"/>
<text x="471.6" y="103.3" font-size="12.9" text-anchor="start" font-weight="bold" stroke="#1c1c1c" stroke-width="0.3">350 nm</text>
<line x1="471.3" y1="105.3" x2="515.6" y2="105.3" stroke="#1c1c1c" stroke-width="1.5"/>
<text x="541.7" y="43.1" font-size="14.1" font-weight="bold" stroke="#1c1c1c" stroke-width="0.25">(c) nC<tspan font-size="9.0" baseline-shift="-4.2">60</tspan>-stir (batch 1)</text>
<text x="541.7" y="64.9" font-size="14.1" font-weight="bold" stroke="#1c1c1c" stroke-width="0.25">0.26 mgL<tspan font-size="9.0" baseline-shift="6.8">-1</tspan></text>
<text x="541.7" y="84" font-size="14.1" font-weight="bold" stroke="#1c1c1c" stroke-width="0.25">223 nm (40.9 kcps)</text>
<text x="541.7" y="102.7" font-size="14.1" font-weight="bold" stroke="#1c1c1c" stroke-width="0.25">PdI=0.244</text>
<text x="369.9" y="443" font-size="10.6" text-anchor="end" font-weight="bold" stroke="#1c1c1c" stroke-width="0.3">0.00</text>
<line x1="374.7" y1="399.45" x2="380.2" y2="399.45" stroke="#1c1c1c" stroke-width="1.1"/>
<line x1="684.4" y1="399.45" x2="678.9" y2="399.45" stroke="#1c1c1c" stroke-width="1.1"/>
<text x="369.9" y="403.05" font-size="10.6" text-anchor="end" font-weight="bold" stroke="#1c1c1c" stroke-width="0.3">0.01</text>
<line x1="374.7" y1="359.5" x2="380.2" y2="359.5" stroke="#1c1c1c" stroke-width="1.1"/>
<line x1="684.4" y1="359.5" x2="678.9" y2="359.5" stroke="#1c1c1c" stroke-width="1.1"/>
<text x="369.9" y="363.1" font-size="10.6" text-anchor="end" font-weight="bold" stroke="#1c1c1c" stroke-width="0.3">0.02</text>
<line x1="374.7" y1="319.55" x2="380.2" y2="319.55" stroke="#1c1c1c" stroke-width="1.1"/>
<line x1="684.4" y1="319.55" x2="678.9" y2="319.55" stroke="#1c1c1c" stroke-width="1.1"/>
<text x="369.9" y="323.15" font-size="10.6" text-anchor="end" font-weight="bold" stroke="#1c1c1c" stroke-width="0.3">0.03</text>
<line x1="374.7" y1="279.6" x2="380.2" y2="279.6" stroke="#1c1c1c" stroke-width="1.1"/>
<line x1="684.4" y1="279.6" x2="678.9" y2="279.6" stroke="#1c1c1c" stroke-width="1.1"/>
<text x="369.9" y="283.2" font-size="10.6" text-anchor="end" font-weight="bold" stroke="#1c1c1c" stroke-width="0.3">0.04</text>
<line x1="382.75" y1="439.4" x2="382.75" y2="435.6" stroke="#444" stroke-width="0.9"/>
<line x1="390.89" y1="439.4" x2="390.89" y2="435.6" stroke="#444" stroke-width="0.9"/>
<line x1="399.04" y1="439.4" x2="399.04" y2="435.6" stroke="#444" stroke-width="0.9"/>
<line x1="407.18" y1="439.4" x2="407.18" y2="433.9" stroke="#1c1c1c" stroke-width="1.15"/>
<text x="407.18" y="454.1" font-size="10.6" text-anchor="middle" font-weight="bold" stroke="#1c1c1c" stroke-width="0.3">250</text>
<line x1="415.33" y1="439.4" x2="415.33" y2="435.6" stroke="#444" stroke-width="0.9"/>
<line x1="423.48" y1="439.4" x2="423.48" y2="435.6" stroke="#444" stroke-width="0.9"/>
<line x1="431.62" y1="439.4" x2="431.62" y2="435.6" stroke="#444" stroke-width="0.9"/>
<line x1="439.77" y1="439.4" x2="439.77" y2="435.6" stroke="#444" stroke-width="0.9"/>
<line x1="447.91" y1="439.4" x2="447.91" y2="433.9" stroke="#1c1c1c" stroke-width="1.15"/>
<text x="447.91" y="454.1" font-size="10.6" text-anchor="middle" font-weight="bold" stroke="#1c1c1c" stroke-width="0.3">300</text>
<line x1="456.06" y1="439.4" x2="456.06" y2="435.6" stroke="#444" stroke-width="0.9"/>
<line x1="464.21" y1="439.4" x2="464.21" y2="435.6" stroke="#444" stroke-width="0.9"/>
<line x1="472.35" y1="439.4" x2="472.35" y2="435.6" stroke="#444" stroke-width="0.9"/>
<line x1="480.5" y1="439.4" x2="480.5" y2="435.6" stroke="#444" stroke-width="0.9"/>
<line x1="488.64" y1="439.4" x2="488.64" y2="433.9" stroke="#1c1c1c" stroke-width="1.15"/>
<text x="488.64" y="454.1" font-size="10.6" text-anchor="middle" font-weight="bold" stroke="#1c1c1c" stroke-width="0.3">350</text>
<line x1="496.79" y1="439.4" x2="496.79" y2="435.6" stroke="#444" stroke-width="0.9"/>
<line x1="504.94" y1="439.4" x2="504.94" y2="435.6" stroke="#444" stroke-width="0.9"/>
<line x1="513.08" y1="439.4" x2="513.08" y2="435.6" stroke="#444" stroke-width="0.9"/>
<line x1="521.23" y1="439.4" x2="521.23" y2="435.6" stroke="#444" stroke-width="0.9"/>
<line x1="529.37" y1="439.4" x2="529.37" y2="433.9" stroke="#1c1c1c" stroke-width="1.15"/>
<text x="529.37" y="454.1" font-size="10.6" text-anchor="middle" font-weight="bold" stroke="#1c1c1c" stroke-width="0.3">400</text>
<line x1="537.52" y1="439.4" x2="537.52" y2="435.6" stroke="#444" stroke-width="0.9"/>
<line x1="545.67" y1="439.4" x2="545.67" y2="435.6" stroke="#444" stroke-width="0.9"/>
<line x1="553.81" y1="439.4" x2="553.81" y2="435.6" stroke="#444" stroke-width="0.9"/>
<line x1="561.96" y1="439.4" x2="561.96" y2="435.6" stroke="#444" stroke-width="0.9"/>
<line x1="570.1" y1="439.4" x2="570.1" y2="433.9" stroke="#1c1c1c" stroke-width="1.15"/>
<text x="570.1" y="454.1" font-size="10.6" text-anchor="middle" font-weight="bold" stroke="#1c1c1c" stroke-width="0.3">450</text>
<line x1="578.25" y1="439.4" x2="578.25" y2="435.6" stroke="#444" stroke-width="0.9"/>
<line x1="586.4" y1="439.4" x2="586.4" y2="435.6" stroke="#444" stroke-width="0.9"/>
<line x1="594.54" y1="439.4" x2="594.54" y2="435.6" stroke="#444" stroke-width="0.9"/>
<line x1="602.69" y1="439.4" x2="602.69" y2="435.6" stroke="#444" stroke-width="0.9"/>
<line x1="610.83" y1="439.4" x2="610.83" y2="433.9" stroke="#1c1c1c" stroke-width="1.15"/>
<text x="610.83" y="454.1" font-size="10.6" text-anchor="middle" font-weight="bold" stroke="#1c1c1c" stroke-width="0.3">500</text>
<line x1="618.98" y1="439.4" x2="618.98" y2="435.6" stroke="#444" stroke-width="0.9"/>
<line x1="627.13" y1="439.4" x2="627.13" y2="435.6" stroke="#444" stroke-width="0.9"/>
<line x1="635.27" y1="439.4" x2="635.27" y2="435.6" stroke="#444" stroke-width="0.9"/>
<line x1="643.42" y1="439.4" x2="643.42" y2="435.6" stroke="#444" stroke-width="0.9"/>
<line x1="651.56" y1="439.4" x2="651.56" y2="433.9" stroke="#1c1c1c" stroke-width="1.15"/>
<text x="651.56" y="454.1" font-size="10.6" text-anchor="middle" font-weight="bold" stroke="#1c1c1c" stroke-width="0.3">550</text>
<line x1="659.71" y1="439.4" x2="659.71" y2="435.6" stroke="#444" stroke-width="0.9"/>
<line x1="667.86" y1="439.4" x2="667.86" y2="435.6" stroke="#444" stroke-width="0.9"/>
<line x1="676" y1="439.4" x2="676" y2="435.6" stroke="#444" stroke-width="0.9"/>
<g clip-path="url(#cd)">
<path d="M394.1,440.5 C394.12,440.33 393.98,441.82 394.2,439.5 C394.42,437.18 394.98,430.6 395.4,426.6 C395.82,422.6 396.18,418.78 396.7,415.5 C397.22,412.22 397.78,409.98 398.5,406.9 C399.22,403.82 399.97,400.1 401,397 C402.03,393.9 403.47,390.67 404.7,388.3 C405.93,385.93 407.17,384.17 408.4,382.8 C409.63,381.43 410.87,380.72 412.1,380.1 C413.33,379.48 414.68,379.08 415.8,379.1 C416.92,379.12 417.83,379.78 418.8,380.2 C419.77,380.62 420.67,381.22 421.6,381.6 C422.53,381.98 423.45,382.03 424.4,382.5 C425.35,382.97 426.5,383.95 427.3,384.4 C428.1,384.85 428.42,384.85 429.2,385.2 C429.98,385.55 431.07,386.08 432,386.5 C432.93,386.92 433.93,387.33 434.8,387.7 C435.67,388.07 436.33,388.07 437.2,388.7 C438.07,389.33 438.98,390.4 440,391.5 C441.02,392.6 442.12,393.88 443.3,395.3 C444.48,396.72 445.85,398.52 447.1,400 C448.35,401.48 449.55,403.02 450.8,404.2 C452.05,405.38 453.33,406.18 454.6,407.1 C455.87,408.02 457.13,409 458.4,409.7 C459.67,410.4 460.78,410.95 462.2,411.3 C463.62,411.65 465.48,411.9 466.9,411.8 C468.32,411.7 469.67,411.07 470.7,410.7 C471.73,410.33 472.2,409.98 473.1,409.6 C474,409.22 475.25,408.77 476.1,408.4 C476.95,408.03 477.52,407.83 478.2,407.4 C478.88,406.97 479.35,406.12 480.2,405.8 C481.05,405.48 482.28,405.62 483.3,405.5 C484.32,405.38 485.37,405.22 486.3,405.1 C487.23,404.98 488.03,404.8 488.9,404.8 C489.77,404.8 490.65,404.88 491.5,405.1 C492.35,405.32 493.07,405.55 494,406.1 C494.93,406.65 496.58,408.02 497.1,408.4 L499.1,410.4 L500.7,413 L503.2,411.7 L505.3,413.7 L507.8,415.8 L510.4,416.8 L512.9,419.1 L516,421.2 L519,422.7 L522.1,423.7 L525.2,424.7 L527.7,425.3 L529.8,427 L533.4,427.6 L536.4,428.6 L539.4,427.5 L542.7,429.2 L546,427.7 L547.6,427.3 L549.8,429.5 L552.5,428.1 L554.7,428.6 L555.8,430.3 L556.9,427 L558.5,429.2 L560.7,428.4 L562.4,429.5 L563.7,427 L566.2,429.2 L568.9,429.7 L571.1,429.9 L573.3,431 L576.1,429.5 L578.8,430.8 L581,429.7 L583.2,431 L584.8,432.8 L587.6,431.4 L590.8,431.9 L594.1,431.7 L597.4,431.9 L599.1,420.4 L601.2,439 L602.7,433.5 L605.1,434.1 L607.3,433.5 L609.7,434.9 L611.4,433.5 L613.2,435.8 L615.5,434.3 L617.8,436 L621.4,437 L624.3,437.4 L626.6,438.9 L629.5,437.8 L631.5,439 L633.5,437.6 L635.5,439 L637.5,437.3 L639,439 L642,439.3" fill="none" stroke="#1c1c1c" stroke-width="1.8" stroke-linejoin="round" stroke-linecap="round"/>
<path d="M375,289.5 C375.05,289.75 375.1,289.1 375.3,291 C375.5,292.9 375.82,297.7 376.2,300.9 C376.58,304.1 377.12,307.12 377.6,310.2 C378.08,313.28 378.57,316.32 379.1,319.4 C379.63,322.48 380.23,325.6 380.8,328.7 C381.37,331.8 381.92,334.72 382.5,338 C383.08,341.28 383.68,343.92 384.3,348.4 C384.92,352.88 385.63,360.1 386.2,364.9 C386.77,369.7 387.18,373.08 387.7,377.2 C388.22,381.32 388.73,386.1 389.3,389.6 C389.87,393.1 390.38,395.83 391.1,398.2 C391.82,400.57 392.57,402.47 393.6,403.8 C394.63,405.13 396.07,405.38 397.3,406.2 C398.53,407.02 399.77,407.77 401,408.7 C402.23,409.63 403.47,410.25 404.7,411.8 C405.93,413.35 407.27,415.73 408.4,418 C409.53,420.27 410.57,423.15 411.5,425.4 C412.43,427.65 413.28,429.65 414,431.5 C414.72,433.35 415.27,435.18 415.8,436.5 C416.33,437.82 416.97,438.92 417.2,439.4" fill="none" stroke="#1c1c1c" stroke-width="1.15" stroke-linejoin="round" stroke-linecap="round"/>
<path d="M426.8,439.4 C427.35,438.73 428.92,436.57 430.1,435.4 C431.28,434.23 432.72,433.03 433.9,432.4 C435.08,431.77 436.1,431.58 437.2,431.6 C438.3,431.62 439.48,431.95 440.5,432.5 C441.52,433.05 442.37,433.75 443.3,434.9 C444.23,436.05 445.63,438.65 446.1,439.4" fill="none" stroke="#1c1c1c" stroke-width="1.15" stroke-linejoin="round" stroke-linecap="round"/>
<path d="M665.7,439.2 L667.2,435.2 L668.7,439.2 L670.2,435.2 L671.7,439.2 L673.2,435.2 L674.7,439.2 L676.2,435.2 L677.7,439.2 L678.6,437" fill="none" stroke="#1c1c1c" stroke-width="1.1" stroke-linejoin="round" stroke-linecap="round"/>
</g>
<rect x="374.7" y="243.8" width="309.7" height="195.6" fill="none" stroke="#1c1c1c" stroke-width="1.3"/>
<line x1="416" y1="362.7" x2="416" y2="439" stroke="#1c1c1c" stroke-width="1.3"/>
<polyline points="411.8,372.7 416,362.7 420.2,372.7" fill="none" stroke="#1c1c1c" stroke-width="1.3" stroke-linejoin="miter"/>
<text x="396.2" y="358.5" font-size="12.9" text-anchor="start" font-weight="bold" stroke="#1c1c1c" stroke-width="0.3">260 nm</text>
<line x1="395.9" y1="360.5" x2="440.9" y2="360.5" stroke="#1c1c1c" stroke-width="1.5"/>
<text x="523.2" y="263.1" font-size="14.1" font-weight="bold" stroke="#1c1c1c" stroke-width="0.25">(d) nC<tspan font-size="9.0" baseline-shift="-4.2">60</tspan>-stir (batch 2)</text>
<text x="523.2" y="284.2" font-size="14.1" font-weight="bold" stroke="#1c1c1c" stroke-width="0.25">0.10 mgL<tspan font-size="9.0" baseline-shift="6.8">-1</tspan></text>
<text x="523.2" y="303.5" font-size="14.1" font-weight="bold" stroke="#1c1c1c" stroke-width="0.25">124±1 nm (166±1 kcps)</text>
<text x="523.2" y="322.3" font-size="14.1" font-weight="bold" stroke="#1c1c1c" stroke-width="0.25">PdI=0.149±0.027</text>
<text x="369.9" y="660" font-size="10.6" text-anchor="end" font-weight="bold" stroke="#1c1c1c" stroke-width="0.3">0.00</text>
<line x1="374.7" y1="616.5" x2="380.2" y2="616.5" stroke="#1c1c1c" stroke-width="1.1"/>
<line x1="684.4" y1="616.5" x2="678.9" y2="616.5" stroke="#1c1c1c" stroke-width="1.1"/>
<text x="369.9" y="620.1" font-size="10.6" text-anchor="end" font-weight="bold" stroke="#1c1c1c" stroke-width="0.3">0.01</text>
<line x1="374.7" y1="576.6" x2="380.2" y2="576.6" stroke="#1c1c1c" stroke-width="1.1"/>
<line x1="684.4" y1="576.6" x2="678.9" y2="576.6" stroke="#1c1c1c" stroke-width="1.1"/>
<text x="369.9" y="580.2" font-size="10.6" text-anchor="end" font-weight="bold" stroke="#1c1c1c" stroke-width="0.3">0.02</text>
<line x1="374.7" y1="536.7" x2="380.2" y2="536.7" stroke="#1c1c1c" stroke-width="1.1"/>
<line x1="684.4" y1="536.7" x2="678.9" y2="536.7" stroke="#1c1c1c" stroke-width="1.1"/>
<text x="369.9" y="540.3" font-size="10.6" text-anchor="end" font-weight="bold" stroke="#1c1c1c" stroke-width="0.3">0.03</text>
<line x1="374.7" y1="496.8" x2="380.2" y2="496.8" stroke="#1c1c1c" stroke-width="1.1"/>
<line x1="684.4" y1="496.8" x2="678.9" y2="496.8" stroke="#1c1c1c" stroke-width="1.1"/>
<text x="369.9" y="500.4" font-size="10.6" text-anchor="end" font-weight="bold" stroke="#1c1c1c" stroke-width="0.3">0.04</text>
<line x1="382.75" y1="656.4" x2="382.75" y2="652.6" stroke="#444" stroke-width="0.9"/>
<line x1="390.89" y1="656.4" x2="390.89" y2="652.6" stroke="#444" stroke-width="0.9"/>
<line x1="399.04" y1="656.4" x2="399.04" y2="652.6" stroke="#444" stroke-width="0.9"/>
<line x1="407.18" y1="656.4" x2="407.18" y2="650.9" stroke="#1c1c1c" stroke-width="1.15"/>
<text x="407.18" y="671.1" font-size="10.6" text-anchor="middle" font-weight="bold" stroke="#1c1c1c" stroke-width="0.3">250</text>
<line x1="415.33" y1="656.4" x2="415.33" y2="652.6" stroke="#444" stroke-width="0.9"/>
<line x1="423.48" y1="656.4" x2="423.48" y2="652.6" stroke="#444" stroke-width="0.9"/>
<line x1="431.62" y1="656.4" x2="431.62" y2="652.6" stroke="#444" stroke-width="0.9"/>
<line x1="439.77" y1="656.4" x2="439.77" y2="652.6" stroke="#444" stroke-width="0.9"/>
<line x1="447.91" y1="656.4" x2="447.91" y2="650.9" stroke="#1c1c1c" stroke-width="1.15"/>
<text x="447.91" y="671.1" font-size="10.6" text-anchor="middle" font-weight="bold" stroke="#1c1c1c" stroke-width="0.3">300</text>
<line x1="456.06" y1="656.4" x2="456.06" y2="652.6" stroke="#444" stroke-width="0.9"/>
<line x1="464.21" y1="656.4" x2="464.21" y2="652.6" stroke="#444" stroke-width="0.9"/>
<line x1="472.35" y1="656.4" x2="472.35" y2="652.6" stroke="#444" stroke-width="0.9"/>
<line x1="480.5" y1="656.4" x2="480.5" y2="652.6" stroke="#444" stroke-width="0.9"/>
<line x1="488.64" y1="656.4" x2="488.64" y2="650.9" stroke="#1c1c1c" stroke-width="1.15"/>
<text x="488.64" y="671.1" font-size="10.6" text-anchor="middle" font-weight="bold" stroke="#1c1c1c" stroke-width="0.3">350</text>
<line x1="496.79" y1="656.4" x2="496.79" y2="652.6" stroke="#444" stroke-width="0.9"/>
<line x1="504.94" y1="656.4" x2="504.94" y2="652.6" stroke="#444" stroke-width="0.9"/>
<line x1="513.08" y1="656.4" x2="513.08" y2="652.6" stroke="#444" stroke-width="0.9"/>
<line x1="521.23" y1="656.4" x2="521.23" y2="652.6" stroke="#444" stroke-width="0.9"/>
<line x1="529.37" y1="656.4" x2="529.37" y2="650.9" stroke="#1c1c1c" stroke-width="1.15"/>
<text x="529.37" y="671.1" font-size="10.6" text-anchor="middle" font-weight="bold" stroke="#1c1c1c" stroke-width="0.3">400</text>
<line x1="537.52" y1="656.4" x2="537.52" y2="652.6" stroke="#444" stroke-width="0.9"/>
<line x1="545.67" y1="656.4" x2="545.67" y2="652.6" stroke="#444" stroke-width="0.9"/>
<line x1="553.81" y1="656.4" x2="553.81" y2="652.6" stroke="#444" stroke-width="0.9"/>
<line x1="561.96" y1="656.4" x2="561.96" y2="652.6" stroke="#444" stroke-width="0.9"/>
<line x1="570.1" y1="656.4" x2="570.1" y2="650.9" stroke="#1c1c1c" stroke-width="1.15"/>
<text x="570.1" y="671.1" font-size="10.6" text-anchor="middle" font-weight="bold" stroke="#1c1c1c" stroke-width="0.3">450</text>
<line x1="578.25" y1="656.4" x2="578.25" y2="652.6" stroke="#444" stroke-width="0.9"/>
<line x1="586.4" y1="656.4" x2="586.4" y2="652.6" stroke="#444" stroke-width="0.9"/>
<line x1="594.54" y1="656.4" x2="594.54" y2="652.6" stroke="#444" stroke-width="0.9"/>
<line x1="602.69" y1="656.4" x2="602.69" y2="652.6" stroke="#444" stroke-width="0.9"/>
<line x1="610.83" y1="656.4" x2="610.83" y2="650.9" stroke="#1c1c1c" stroke-width="1.15"/>
<text x="610.83" y="671.1" font-size="10.6" text-anchor="middle" font-weight="bold" stroke="#1c1c1c" stroke-width="0.3">500</text>
<line x1="618.98" y1="656.4" x2="618.98" y2="652.6" stroke="#444" stroke-width="0.9"/>
<line x1="627.13" y1="656.4" x2="627.13" y2="652.6" stroke="#444" stroke-width="0.9"/>
<line x1="635.27" y1="656.4" x2="635.27" y2="652.6" stroke="#444" stroke-width="0.9"/>
<line x1="643.42" y1="656.4" x2="643.42" y2="652.6" stroke="#444" stroke-width="0.9"/>
<line x1="651.56" y1="656.4" x2="651.56" y2="650.9" stroke="#1c1c1c" stroke-width="1.15"/>
<text x="651.56" y="671.1" font-size="10.6" text-anchor="middle" font-weight="bold" stroke="#1c1c1c" stroke-width="0.3">550</text>
<line x1="659.71" y1="656.4" x2="659.71" y2="652.6" stroke="#444" stroke-width="0.9"/>
<line x1="667.86" y1="656.4" x2="667.86" y2="652.6" stroke="#444" stroke-width="0.9"/>
<line x1="676" y1="656.4" x2="676" y2="652.6" stroke="#444" stroke-width="0.9"/>
<g clip-path="url(#ce)">
<path d="M395.6,657.5 C395.62,657.32 395.4,658.27 395.7,656.4 C396,654.53 396.68,649.87 397.4,646.3 C398.12,642.73 398.98,638.48 400,635 C401.02,631.52 402.18,628.45 403.5,625.4 C404.82,622.35 406.45,619.32 407.9,616.7 C409.35,614.08 410.75,611.45 412.2,609.7 C413.65,607.95 415.62,607.03 416.6,606.2 C417.58,605.37 417.35,604.87 418.1,604.7 C418.85,604.53 420,604.92 421.1,605.2 C422.2,605.48 423.5,605.75 424.7,606.4 C425.9,607.05 427.02,608.45 428.3,609.1 C429.58,609.75 430.87,609.83 432.4,610.3 C433.93,610.77 435.8,611.05 437.5,611.9 C439.2,612.75 440.9,614.22 442.6,615.4 C444.3,616.58 446,617.8 447.7,619 C449.4,620.2 451.1,621.48 452.8,622.6 C454.5,623.72 456.37,624.82 457.9,625.7 C459.43,626.58 460.47,627.27 462,627.9 C463.53,628.53 465.65,629.37 467.1,629.5 C468.55,629.63 469.33,629.25 470.7,628.7 C472.07,628.15 473.68,627.13 475.3,626.2 C476.92,625.27 479.03,623.87 480.4,623.1 C481.77,622.33 482.4,621.98 483.5,621.6 C484.6,621.22 485.73,621.03 487,620.8 C488.27,620.57 489.83,620.15 491.1,620.2 C492.37,620.25 493.53,620.62 494.6,621.1 C495.67,621.58 496.53,622.32 497.5,623.1 C498.47,623.88 499.92,625.35 500.4,625.8 L503.4,626.6 L508,629.5 L511.5,632.4 L515,634.2 L518.5,636.3 L523.2,638.3 L527.9,640 L532.6,641.8 L537.2,642.6 L541.9,643.3 L546.6,643 L551.2,643.5 L555.9,643.5 L558,642.8 L560.7,643 L563,643.8 L566.4,643.6 L569,643.2 L572.1,644 L575,643.4 L577.8,643.6 L580.5,644.5 L583.5,644.9 L586,645.3 L589.2,645.9 L592.5,646.1 L595.8,646.3 L597.6,646.3 L599.2,640.2 L600.9,652.5 L602.4,647.8 L606.2,648.7 L609,648.2 L611.9,648.7 L614.7,649.8 L617.6,650.6 L620.5,651.4 L623.3,651.9 L626.2,652.8 L629,653.5 L631.9,654 L634.7,654.4 L636.6,653.8 L638.5,653.8 L640.4,654.9 L642.3,655.4 L645,655.2 L648,655.7 L650,656.6" fill="none" stroke="#1c1c1c" stroke-width="1.8" stroke-linejoin="round" stroke-linecap="round"/>
<path d="M378.9,455 C378.95,455.98 378.82,455.45 379.2,460.9 C379.58,466.35 380.55,478.88 381.2,487.7 C381.85,496.52 382.43,505.08 383.1,513.8 C383.77,522.52 384.55,532.15 385.2,540 C385.85,547.85 386.42,553.63 387,560.9 C387.58,568.17 388.12,576.05 388.7,583.6 C389.28,591.15 389.77,599.53 390.5,606.2 C391.23,612.87 392.23,618.67 393.1,623.6 C393.97,628.53 394.83,633.03 395.7,635.8 C396.57,638.57 397.15,639.38 398.3,640.2 C399.45,641.02 401.15,640.62 402.6,640.7 C404.05,640.78 405.68,640.2 407,640.7 C408.32,641.2 409.33,642.05 410.5,643.7 C411.67,645.35 413.05,648.45 414,650.6 C414.95,652.75 415.83,655.6 416.2,656.6" fill="none" stroke="#1c1c1c" stroke-width="1.15" stroke-linejoin="round" stroke-linecap="round"/>
<path d="M425.2,656.6 C426.05,655.62 428.6,652.2 430.3,650.7 C432,649.2 433.87,648.17 435.4,647.6 C436.93,647.03 438.22,647.03 439.5,647.3 C440.78,647.57 442.07,648.38 443.1,649.2 C444.13,650.02 444.93,650.97 445.7,652.2 C446.47,653.43 447.37,655.87 447.7,656.6" fill="none" stroke="#1c1c1c" stroke-width="1.15" stroke-linejoin="round" stroke-linecap="round"/>
<path d="M666,656.3 L667.3,653.3 L668.6,656 L670,653.2 L671.4,656 L672.8,653.2 L674.2,656 L675.6,653.3 L677,655.5 L678.3,656.3" fill="none" stroke="#1c1c1c" stroke-width="1.1" stroke-linejoin="round" stroke-linecap="round"/>
</g>
<rect x="374.7" y="460.8" width="309.7" height="195.6" fill="none" stroke="#1c1c1c" stroke-width="1.3"/>
<line x1="489" y1="107.6" x2="489" y2="656.3" stroke="#1c1c1c" stroke-width="1.3"/>
<polyline points="485,118.3 489,107.6 493,118.3" fill="none" stroke="#1c1c1c" stroke-width="1.3"/>
<line x1="416.1" y1="362.7" x2="416.1" y2="656.3" stroke="#1c1c1c" stroke-width="1.3"/>
<text x="526.3" y="478.7" font-size="14.1" font-weight="bold" stroke="#1c1c1c" stroke-width="0.25">(e) nC<tspan font-size="9.0" baseline-shift="-4.2">60</tspan>-stir (batch 3)</text>
<text x="526.3" y="500.1" font-size="14.1" font-weight="bold" stroke="#1c1c1c" stroke-width="0.25">0.12 mgL<tspan font-size="9.0" baseline-shift="6.8">-1</tspan></text>
<text x="526.3" y="519.3" font-size="14.1" font-weight="bold" stroke="#1c1c1c" stroke-width="0.25">149±1 nm (500±1 kcps)</text>
<text x="526.3" y="537.9" font-size="14.1" font-weight="bold" stroke="#1c1c1c" stroke-width="0.25">PdI=0.111±0.054</text>
<text x="0" y="0" font-size="11.5" font-weight="bold" stroke="#1c1c1c" stroke-width="0.25" text-anchor="middle" transform="translate(8.0,135.5) rotate(-90)">Absorbance</text>
<text x="0" y="0" font-size="11.5" font-weight="bold" stroke="#1c1c1c" stroke-width="0.25" text-anchor="middle" transform="translate(8.0,341.5) rotate(-90)">Absorbance</text>
<text x="530.4" y="686.3" font-size="11.5" font-weight="bold" stroke="#1c1c1c" stroke-width="0.25" text-anchor="middle">Wavelength (nm)</text>
</svg>
</body></html>
